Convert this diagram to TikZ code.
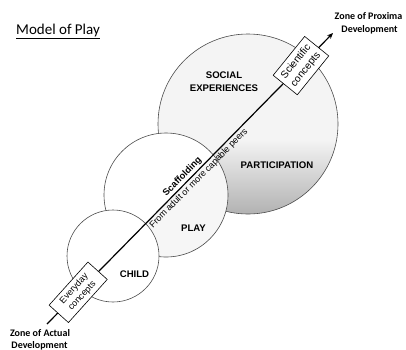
\documentclass[tikz,border=0pt]{standalone}
\usepackage{fontspec}
\setmainfont{Carlito}
\newfontfamily\arialf{Liberation Sans}
\usetikzlibrary{calc,arrows.meta}
\begin{document}
\begin{tikzpicture}[x=1pt,y=-1pt,
  circ/.style={draw=black!70, line width=0.6pt},
  biglabel/.style={font=\arialf\bfseries\fontsize{9.6}{11}\selectfont, inner sep=0pt, anchor=base},
  zonelabel/.style={font=\bfseries\fontsize{10}{12}\selectfont, inner sep=0pt, anchor=base},
  conceptbox/.style={draw=black, line width=0.6pt, fill=white, inner sep=1pt, align=center},
  alongtext/.style={sloped, inner sep=2pt, font=\arialf\fontsize{9}{10}\selectfont},
  flowarrow/.style={line width=1.2pt, -{Stealth[length=6pt,width=5pt]}},
]
\useasboundingbox (0,0) rectangle (406,349);
\coordinate (zad) at (47,324);
\coordinate (zpd) at (333,33);
\coordinate (soc) at (248,124);
\coordinate (ply) at (166,195);
\coordinate (chd) at (113,256);

% social experiences circle
\fill[gray!9] (soc) circle[radius=90pt];
\begin{scope}
  \clip (soc) circle[radius=90pt];
  \clip ($(zad)!-1!(zpd)$) -- ($(zad)!2!(zpd)$) -- (900,900) -- cycle;
  \shade[top color=gray!9, bottom color=gray!62] (150,140) rectangle (350,216);
\end{scope}
\draw[circ] (soc) circle[radius=90pt];

% play circle
\fill[white] (ply) circle[radius=62pt];
\begin{scope}
  \clip (ply) circle[radius=62pt];
  \clip ($(zad)!-1!(zpd)$) -- ($(zad)!2!(zpd)$) -- (900,900) -- cycle;
  \fill[gray!7] (ply) circle[radius=62pt];
\end{scope}
\draw[circ] (ply) circle[radius=62pt];

% child circle
\draw[circ, fill=white] (chd) circle[radius=46pt];

% arrow
\draw[flowarrow] (zad) -- (zpd);
\path (zad) -- (zpd)
  node[conceptbox, pos=0.109, rotate=48, minimum width=58pt, minimum height=26pt,
       font=\arialf\fontsize{9}{11}\selectfont] (everyday) {Everyday\\concepts}
  node[conceptbox, pos=0.888, rotate=51, minimum width=50pt, minimum height=31pt,
       font=\arialf\fontsize{10.2}{12.5}\selectfont] (scientific) {Scientific\\concepts}
  node[alongtext, above, pos=0.49, font=\arialf\bfseries\fontsize{9.3}{10}\selectfont] (scaff) {Scaffolding}
  node[alongtext, below, pos=0.515] (peers) {From adult or more capable peers};

% labels
\node[biglabel] (social) at (224,78) {SOCIAL};
\node[biglabel] (experiences) at (224,91) {EXPERIENCES};
\node[biglabel] (participation) at (277,168) {PARTICIPATION};
\node[biglabel] (play) at (193.5,231) {PLAY};
\node[biglabel] (child) at (134.5,277) {CHILD};

\node[anchor=base west, inner sep=0pt, font=\fontsize{15}{18}\selectfont] (title) at (16,34) {\underline{Model of Play}};

\node[zonelabel] (zpd1) at (368.5,19) {Zone of Proxima};
\node[zonelabel] (zpd2) at (369.5,32) {Development};
\node[zonelabel] (zad1) at (40,336) {Zone of Actual};
\node[zonelabel] (zad2) at (39.5,348.5) {Development};
\end{tikzpicture}
\end{document}
